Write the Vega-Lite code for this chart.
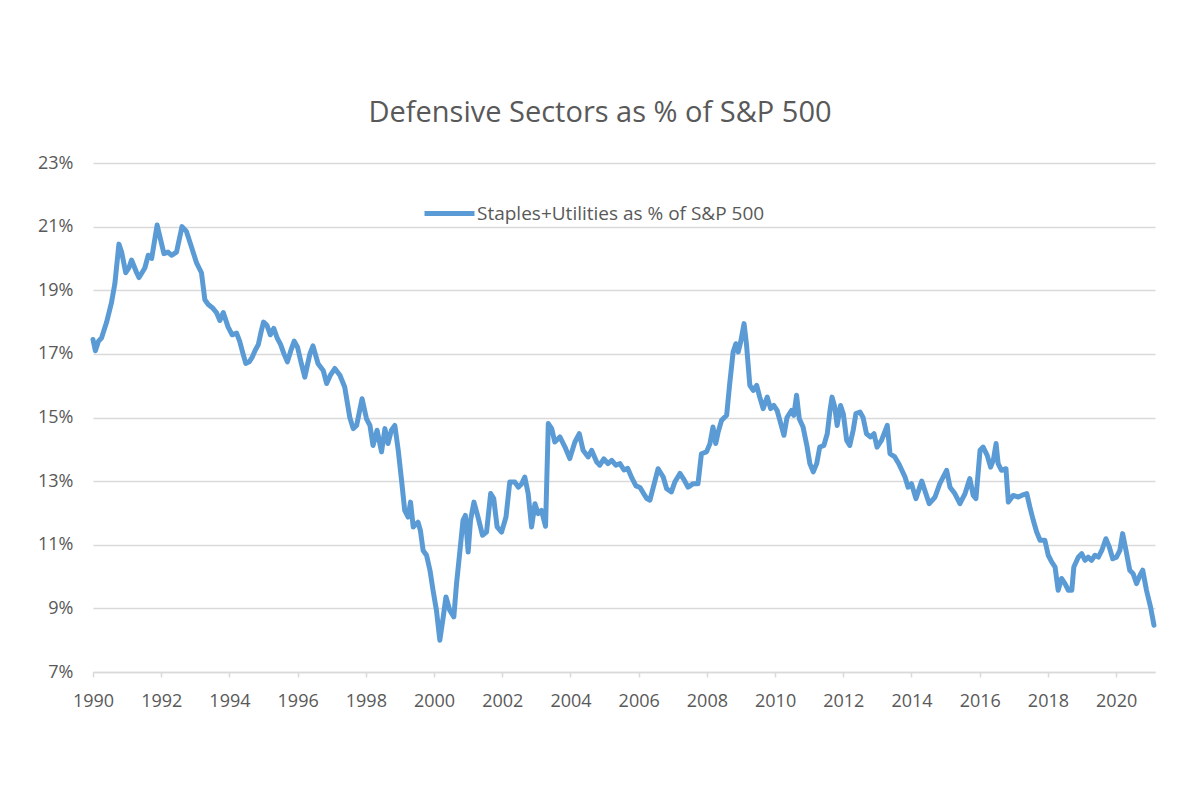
{
  "$schema": "https://vega.github.io/schema/vega-lite/v6.json",
  "autosize": {"type": "none"},
  "padding": {"left": 93, "top": 163, "right": 45, "bottom": 128},
  "width": 1062,
  "height": 509,
  "background": "white",
  "title": {
    "text": "Defensive Sectors as % of S&P 500",
    "font": "Open Sans",
    "fontSize": 29,
    "fontWeight": "normal",
    "color": "#595959",
    "anchor": "middle",
    "frame": "group",
    "baseline": "alphabetic",
    "dx": -24,
    "offset": 3
  },
  "data": {
    "values": [
      {"year": 1990.00, "pct": 17.45}, {"year": 1990.07, "pct": 17.1}, {"year": 1990.16, "pct": 17.4}, {"year": 1990.25, "pct": 17.5},
      {"year": 1990.40, "pct": 18.0}, {"year": 1990.54, "pct": 18.6}, {"year": 1990.64, "pct": 19.2}, {"year": 1990.76, "pct": 20.45},
      {"year": 1990.84, "pct": 20.2}, {"year": 1990.96, "pct": 19.55}, {"year": 1991.05, "pct": 19.7}, {"year": 1991.13, "pct": 19.95},
      {"year": 1991.28, "pct": 19.55}, {"year": 1991.35, "pct": 19.4}, {"year": 1991.52, "pct": 19.7}, {"year": 1991.62, "pct": 20.1},
      {"year": 1991.72, "pct": 20.0}, {"year": 1991.88, "pct": 21.05}, {"year": 1991.98, "pct": 20.6}, {"year": 1992.08, "pct": 20.15},
      {"year": 1992.20, "pct": 20.2}, {"year": 1992.30, "pct": 20.1}, {"year": 1992.45, "pct": 20.2}, {"year": 1992.61, "pct": 21.0},
      {"year": 1992.74, "pct": 20.85}, {"year": 1992.89, "pct": 20.35}, {"year": 1993.04, "pct": 19.85}, {"year": 1993.18, "pct": 19.55},
      {"year": 1993.28, "pct": 18.7}, {"year": 1993.38, "pct": 18.55}, {"year": 1993.50, "pct": 18.45}, {"year": 1993.62, "pct": 18.3},
      {"year": 1993.72, "pct": 18.05}, {"year": 1993.82, "pct": 18.3}, {"year": 1993.96, "pct": 17.85}, {"year": 1994.08, "pct": 17.6},
      {"year": 1994.21, "pct": 17.65}, {"year": 1994.30, "pct": 17.4}, {"year": 1994.40, "pct": 17.0}, {"year": 1994.48, "pct": 16.7},
      {"year": 1994.58, "pct": 16.75}, {"year": 1994.67, "pct": 16.9}, {"year": 1994.75, "pct": 17.1}, {"year": 1994.85, "pct": 17.3},
      {"year": 1994.93, "pct": 17.7}, {"year": 1995.00, "pct": 18.0}, {"year": 1995.10, "pct": 17.9}, {"year": 1995.20, "pct": 17.6},
      {"year": 1995.30, "pct": 17.8}, {"year": 1995.40, "pct": 17.5}, {"year": 1995.50, "pct": 17.3}, {"year": 1995.60, "pct": 17.0},
      {"year": 1995.70, "pct": 16.75}, {"year": 1995.80, "pct": 17.1}, {"year": 1995.90, "pct": 17.4}, {"year": 1996.00, "pct": 17.2},
      {"year": 1996.11, "pct": 16.69}, {"year": 1996.21, "pct": 16.27}, {"year": 1996.36, "pct": 17.0}, {"year": 1996.45, "pct": 17.25},
      {"year": 1996.60, "pct": 16.69}, {"year": 1996.75, "pct": 16.48}, {"year": 1996.85, "pct": 16.07}, {"year": 1996.96, "pct": 16.33},
      {"year": 1997.09, "pct": 16.54}, {"year": 1997.24, "pct": 16.33}, {"year": 1997.38, "pct": 15.96}, {"year": 1997.53, "pct": 15.0},
      {"year": 1997.63, "pct": 14.65}, {"year": 1997.73, "pct": 14.75}, {"year": 1997.89, "pct": 15.59}, {"year": 1998.02, "pct": 14.96},
      {"year": 1998.12, "pct": 14.75}, {"year": 1998.21, "pct": 14.12}, {"year": 1998.33, "pct": 14.6}, {"year": 1998.46, "pct": 13.92},
      {"year": 1998.56, "pct": 14.65}, {"year": 1998.65, "pct": 14.18}, {"year": 1998.75, "pct": 14.6}, {"year": 1998.85, "pct": 14.75},
      {"year": 1998.95, "pct": 13.97}, {"year": 1999.05, "pct": 13.0}, {"year": 1999.14, "pct": 12.08}, {"year": 1999.24, "pct": 11.87},
      {"year": 1999.31, "pct": 12.34}, {"year": 1999.39, "pct": 11.56}, {"year": 1999.53, "pct": 11.71}, {"year": 1999.60, "pct": 11.45},
      {"year": 1999.68, "pct": 10.82}, {"year": 1999.78, "pct": 10.67}, {"year": 1999.88, "pct": 10.2}, {"year": 1999.97, "pct": 9.57},
      {"year": 2000.07, "pct": 8.94}, {"year": 2000.17, "pct": 8.0}, {"year": 2000.27, "pct": 8.73}, {"year": 2000.35, "pct": 9.36},
      {"year": 2000.46, "pct": 8.94}, {"year": 2000.58, "pct": 8.73}, {"year": 2000.66, "pct": 9.78}, {"year": 2000.76, "pct": 10.82},
      {"year": 2000.85, "pct": 11.77}, {"year": 2000.92, "pct": 11.92}, {"year": 2001.00, "pct": 10.77}, {"year": 2001.07, "pct": 11.77},
      {"year": 2001.17, "pct": 12.34}, {"year": 2001.29, "pct": 11.87}, {"year": 2001.42, "pct": 11.3}, {"year": 2001.54, "pct": 11.4},
      {"year": 2001.66, "pct": 12.61}, {"year": 2001.75, "pct": 12.45}, {"year": 2001.85, "pct": 11.56}, {"year": 2001.98, "pct": 11.4},
      {"year": 2002.11, "pct": 11.87}, {"year": 2002.22, "pct": 12.97}, {"year": 2002.37, "pct": 12.97}, {"year": 2002.47, "pct": 12.81},
      {"year": 2002.57, "pct": 12.92}, {"year": 2002.66, "pct": 13.13}, {"year": 2002.76, "pct": 12.61}, {"year": 2002.86, "pct": 11.56},
      {"year": 2002.96, "pct": 12.29}, {"year": 2003.05, "pct": 11.98}, {"year": 2003.15, "pct": 12.08}, {"year": 2003.27, "pct": 11.58},
      {"year": 2003.35, "pct": 14.81}, {"year": 2003.45, "pct": 14.65}, {"year": 2003.54, "pct": 14.23}, {"year": 2003.69, "pct": 14.39},
      {"year": 2003.84, "pct": 14.07}, {"year": 2003.98, "pct": 13.71}, {"year": 2004.13, "pct": 14.23}, {"year": 2004.26, "pct": 14.49},
      {"year": 2004.37, "pct": 13.97}, {"year": 2004.52, "pct": 13.76}, {"year": 2004.62, "pct": 13.97}, {"year": 2004.77, "pct": 13.6},
      {"year": 2004.86, "pct": 13.5}, {"year": 2004.98, "pct": 13.7}, {"year": 2005.10, "pct": 13.55}, {"year": 2005.21, "pct": 13.65},
      {"year": 2005.33, "pct": 13.5}, {"year": 2005.45, "pct": 13.55}, {"year": 2005.57, "pct": 13.35}, {"year": 2005.68, "pct": 13.4},
      {"year": 2005.80, "pct": 13.1}, {"year": 2005.92, "pct": 12.85}, {"year": 2006.04, "pct": 12.8}, {"year": 2006.15, "pct": 12.6},
      {"year": 2006.24, "pct": 12.45}, {"year": 2006.33, "pct": 12.4}, {"year": 2006.43, "pct": 12.81}, {"year": 2006.57, "pct": 13.39},
      {"year": 2006.72, "pct": 13.13}, {"year": 2006.82, "pct": 12.76}, {"year": 2006.96, "pct": 12.66}, {"year": 2007.06, "pct": 12.97},
      {"year": 2007.21, "pct": 13.24}, {"year": 2007.31, "pct": 13.08}, {"year": 2007.45, "pct": 12.81}, {"year": 2007.60, "pct": 12.92},
      {"year": 2007.74, "pct": 12.92}, {"year": 2007.84, "pct": 13.86}, {"year": 2007.99, "pct": 13.92}, {"year": 2008.09, "pct": 14.18},
      {"year": 2008.18, "pct": 14.7}, {"year": 2008.26, "pct": 14.18}, {"year": 2008.33, "pct": 14.54}, {"year": 2008.43, "pct": 14.91},
      {"year": 2008.58, "pct": 15.07}, {"year": 2008.67, "pct": 16.07}, {"year": 2008.77, "pct": 17.06}, {"year": 2008.85, "pct": 17.32},
      {"year": 2008.92, "pct": 17.06}, {"year": 2008.99, "pct": 17.37}, {"year": 2009.09, "pct": 17.95}, {"year": 2009.16, "pct": 17.32},
      {"year": 2009.26, "pct": 16.01}, {"year": 2009.36, "pct": 15.85}, {"year": 2009.46, "pct": 16.01}, {"year": 2009.55, "pct": 15.64},
      {"year": 2009.65, "pct": 15.28}, {"year": 2009.77, "pct": 15.64}, {"year": 2009.87, "pct": 15.28}, {"year": 2009.96, "pct": 15.38},
      {"year": 2010.06, "pct": 15.22}, {"year": 2010.14, "pct": 14.91}, {"year": 2010.26, "pct": 14.44}, {"year": 2010.35, "pct": 15.0},
      {"year": 2010.48, "pct": 15.22}, {"year": 2010.55, "pct": 15.07}, {"year": 2010.63, "pct": 15.7}, {"year": 2010.71, "pct": 14.96},
      {"year": 2010.82, "pct": 14.7}, {"year": 2010.94, "pct": 14.07}, {"year": 2011.02, "pct": 13.55}, {"year": 2011.12, "pct": 13.29},
      {"year": 2011.22, "pct": 13.55}, {"year": 2011.31, "pct": 14.07}, {"year": 2011.43, "pct": 14.12}, {"year": 2011.53, "pct": 14.49},
      {"year": 2011.61, "pct": 15.22}, {"year": 2011.67, "pct": 15.64}, {"year": 2011.75, "pct": 15.33}, {"year": 2011.82, "pct": 14.75},
      {"year": 2011.92, "pct": 15.38}, {"year": 2012.00, "pct": 15.12}, {"year": 2012.10, "pct": 14.28}, {"year": 2012.19, "pct": 14.12},
      {"year": 2012.29, "pct": 14.6}, {"year": 2012.37, "pct": 15.12}, {"year": 2012.49, "pct": 15.17}, {"year": 2012.58, "pct": 15.0},
      {"year": 2012.68, "pct": 14.49}, {"year": 2012.80, "pct": 14.39}, {"year": 2012.90, "pct": 14.49}, {"year": 2012.99, "pct": 14.07},
      {"year": 2013.12, "pct": 14.28}, {"year": 2013.29, "pct": 14.75}, {"year": 2013.37, "pct": 13.86}, {"year": 2013.51, "pct": 13.76},
      {"year": 2013.64, "pct": 13.52}, {"year": 2013.81, "pct": 13.13}, {"year": 2013.90, "pct": 12.81}, {"year": 2014.00, "pct": 12.92},
      {"year": 2014.13, "pct": 12.45}, {"year": 2014.30, "pct": 13.0}, {"year": 2014.39, "pct": 12.71}, {"year": 2014.52, "pct": 12.29},
      {"year": 2014.69, "pct": 12.5}, {"year": 2014.83, "pct": 12.92}, {"year": 2015.03, "pct": 13.34}, {"year": 2015.13, "pct": 12.81},
      {"year": 2015.27, "pct": 12.61}, {"year": 2015.42, "pct": 12.29}, {"year": 2015.57, "pct": 12.61}, {"year": 2015.71, "pct": 13.08},
      {"year": 2015.81, "pct": 12.55}, {"year": 2015.89, "pct": 12.45}, {"year": 2016.01, "pct": 13.97}, {"year": 2016.10, "pct": 14.07},
      {"year": 2016.22, "pct": 13.81}, {"year": 2016.32, "pct": 13.44}, {"year": 2016.40, "pct": 13.66}, {"year": 2016.48, "pct": 14.18},
      {"year": 2016.54, "pct": 13.55}, {"year": 2016.64, "pct": 13.34}, {"year": 2016.77, "pct": 13.39}, {"year": 2016.84, "pct": 12.34},
      {"year": 2016.98, "pct": 12.55}, {"year": 2017.13, "pct": 12.5}, {"year": 2017.23, "pct": 12.55}, {"year": 2017.38, "pct": 12.61},
      {"year": 2017.47, "pct": 12.19}, {"year": 2017.57, "pct": 11.77}, {"year": 2017.67, "pct": 11.4}, {"year": 2017.77, "pct": 11.14},
      {"year": 2017.91, "pct": 11.14}, {"year": 2018.01, "pct": 10.67}, {"year": 2018.11, "pct": 10.46}, {"year": 2018.21, "pct": 10.3},
      {"year": 2018.30, "pct": 9.57}, {"year": 2018.40, "pct": 9.94}, {"year": 2018.50, "pct": 9.78}, {"year": 2018.60, "pct": 9.57},
      {"year": 2018.70, "pct": 9.57}, {"year": 2018.76, "pct": 10.3}, {"year": 2018.89, "pct": 10.61}, {"year": 2018.99, "pct": 10.72},
      {"year": 2019.09, "pct": 10.51}, {"year": 2019.18, "pct": 10.61}, {"year": 2019.28, "pct": 10.51}, {"year": 2019.38, "pct": 10.67},
      {"year": 2019.48, "pct": 10.61}, {"year": 2019.58, "pct": 10.82}, {"year": 2019.70, "pct": 11.19}, {"year": 2019.80, "pct": 10.93},
      {"year": 2019.90, "pct": 10.56}, {"year": 2020.01, "pct": 10.61}, {"year": 2020.11, "pct": 10.82}, {"year": 2020.19, "pct": 11.35},
      {"year": 2020.29, "pct": 10.82}, {"year": 2020.40, "pct": 10.2}, {"year": 2020.50, "pct": 10.09}, {"year": 2020.60, "pct": 9.78},
      {"year": 2020.70, "pct": 10.04}, {"year": 2020.78, "pct": 10.2}, {"year": 2020.89, "pct": 9.57}, {"year": 2021.01, "pct": 9.04},
      {"year": 2021.11, "pct": 8.47}
    ]
  },
  "mark": {"type": "line", "strokeWidth": 5, "strokeJoin": "round", "strokeCap": "round"},
  "encoding": {
    "x": {
      "field": "year",
      "type": "quantitative",
      "scale": {"domain": [1990, 2021.14], "nice": false, "zero": false},
      "axis": {
        "title": null,
        "values": [1990, 1992, 1994, 1996, 1998, 2000, 2002, 2004, 2006, 2008, 2010, 2012, 2014, 2016, 2018, 2020],
        "format": "d",
        "grid": false,
        "domainColor": "#d9d9d9",
        "domainWidth": 1.5,
        "tickColor": "#d9d9d9",
        "tickWidth": 1.5,
        "tickSize": 5,
        "labelFont": "Open Sans",
        "labelFontSize": 18,
        "labelColor": "#595959",
        "labelPadding": 15,
        "labelFlush": false,
        "labelOverlap": false
      }
    },
    "y": {
      "field": "pct",
      "type": "quantitative",
      "scale": {"domain": [7, 23], "nice": false, "zero": false},
      "axis": {
        "title": null,
        "values": [7, 9, 11, 13, 15, 17, 19, 21, 23],
        "labelExpr": "datum.value + '%'",
        "domain": false,
        "ticks": false,
        "grid": true,
        "gridColor": "#d9d9d9",
        "gridWidth": 1.5,
        "labelFont": "Open Sans",
        "labelFontSize": 18,
        "labelColor": "#595959",
        "labelPadding": 20
      }
    },
    "color": {
      "datum": "Staples+Utilities as % of S&P 500",
      "type": "nominal",
      "scale": {"range": ["#5b9bd5"]},
      "legend": {
        "title": null,
        "orient": "none",
        "legendX": 329,
        "legendY": 23,
        "padding": 0,
        "symbolType": "stroke",
        "symbolSize": 2500,
        "symbolStrokeWidth": 5,
        "labelOffset": 0,
        "labelLimit": 500,
        "labelFont": "Open Sans",
        "labelFontSize": 19,
        "labelColor": "#595959"
      }
    }
  },
  "config": {
    "view": {"stroke": null}
  }
}
